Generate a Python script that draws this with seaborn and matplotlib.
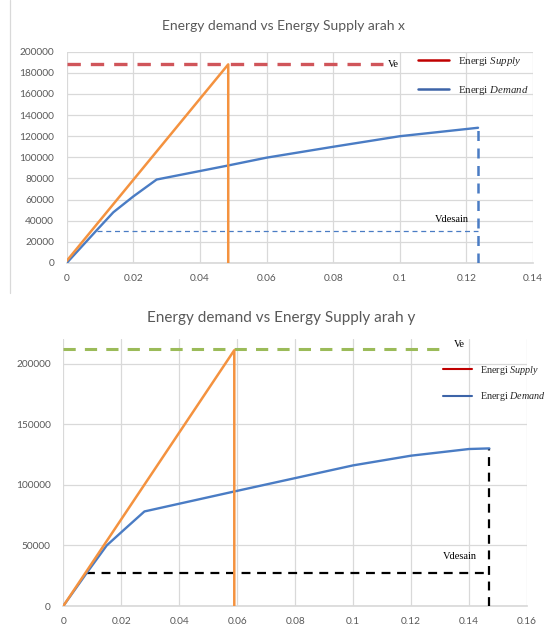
import matplotlib
matplotlib.use("Agg")
import matplotlib.pyplot as plt
import seaborn as sns
import numpy as np
from matplotlib.lines import Line2D

# ---------------- data ----------------
# arah x
demand_x_disp = [0, 0.009, 0.014, 0.020, 0.027, 0.048, 0.06, 0.08, 0.1, 0.1235]
demand_x_force = [0, 31000, 48000, 63000, 79000, 92000, 99700, 110000, 120000, 128000]
supply_x_disp = [0, 0.0485, 0.0485]
supply_x_force = [2000, 188000, 0]
ve_x = 188000
ve_x_end = 0.095
vdesain_x = 30500
vdesain_x_start = 0.009
# arah y
demand_y_disp = [0, 0.008, 0.015, 0.021, 0.028, 0.06, 0.1, 0.12, 0.14, 0.147]
demand_y_force = [0, 27000, 50000, 63000, 78000, 95000, 116000, 124000, 129500, 130000]
supply_y_disp = [0, 0.059, 0.059]
supply_y_force = [0, 211000, 0]
ve_y = 212000
ve_y_end = 0.131
vdesain_y = 27000
vdesain_y_start = 0.008

titles = ["Energy demand vs Energy Supply arah x", "Energy demand vs Energy Supply arah y"]
legend_labels = ["Energi $\\mathit{Supply}$", "Energi $\\mathit{Demand}$"]
xticks_x = [0, 0.02, 0.04, 0.06, 0.08, 0.1, 0.12, 0.14]
xticks_y = [0, 0.02, 0.04, 0.06, 0.08, 0.1, 0.12, 0.14, 0.16]
yticks_x = list(range(0, 200001, 20000))
yticks_y = list(range(0, 200001, 50000))

sns.set_theme(style="white")
plt.rcParams["font.family"] = ["Lato", "DejaVu Sans"]
plt.rcParams["mathtext.fontset"] = "custom"
plt.rcParams["mathtext.it"] = "Liberation Serif:italic"
plt.rcParams["mathtext.rm"] = "Liberation Serif"

ORANGE = "#f4923f"
BLUE = "#4a7cc4"
RED_D = "#d0555a"
GREEN_D = "#9bbb59"
GRID = "#d9d9d9"
TXT = "#595959"
SERIF = "Liberation Serif"

fig = plt.figure(figsize=(5.5, 6.27), dpi=100)
W, H = 550, 627

def axes_px(x0, x1, ytop, ybot):
    return fig.add_axes([x0 / W, 1 - ybot / H, (x1 - x0) / W, (ybot - ytop) / H])

def style(ax, xticks, yticks, xlim, ylim):
    ax.set_xlim(*xlim)
    ax.set_ylim(*ylim)
    ax.set_xticks(xticks)
    ax.set_xticklabels([("%g" % t) for t in xticks])
    ax.set_yticks(yticks)
    ax.set_yticklabels([str(t) for t in yticks])
    ax.grid(True, color=GRID, lw=0.9)
    ax.set_axisbelow(True)
    for s in ax.spines.values():
        s.set_visible(False)
    ax.spines["bottom"].set_visible(True)
    ax.spines["bottom"].set_color(GRID)
    ax.tick_params(axis="both", length=0, labelsize=7.3, colors=TXT)
    ax.tick_params(axis="x", pad=8)
    ax.tick_params(axis="y", pad=9)
    ax.set_xlabel("")
    ax.set_ylabel("")

def line(ax, x, y, color, lw, z):
    sns.lineplot(x=x, y=y, sort=False, estimator=None, errorbar=None,
                 color=color, lw=lw, ax=ax, zorder=z)

# ---------------- top chart ----------------
ax1 = axes_px(66.7, 533, 51.7, 263)
ax1.hlines(ve_x, 0, ve_x_end, colors=RED_D, linestyles=(0, (4, 3)), lw=2.4, zorder=3)
ax1.hlines(vdesain_x, vdesain_x_start, demand_x_disp[-1], colors=BLUE, linestyles=(0, (4, 3)), lw=0.9, zorder=3)
ax1.vlines(demand_x_disp[-1], 0, demand_x_force[-1], colors=BLUE, linestyles=(0, (4, 3)), lw=1.8, zorder=3)
line(ax1, demand_x_disp, demand_x_force, BLUE, 1.7, 4)
line(ax1, supply_x_disp, supply_x_force, ORANGE, 1.8, 5)
style(ax1, xticks_x, yticks_x, (0, 0.14), (0, 200000))
ax1.text(0.0965, ve_x, "Ve", family=SERIF, fontsize=7.5, va="center", ha="left", color="black")
ax1.text(0.1157, 41500, "Vdesain", family=SERIF, fontsize=7.5, va="center", ha="center", color="black")
h = [Line2D([], [], color="#c00000", lw=1.8), Line2D([], [], color="#3d64a8", lw=1.8)]
ax1.legend(h, legend_labels, loc="upper left", bbox_to_anchor=(418 / W, 1 - 55 / H),
           bbox_transform=fig.transFigure, frameon=False,
           handlelength=2.9, handletextpad=0.8, labelspacing=1.45, borderaxespad=0, borderpad=0,
           prop={"family": SERIF, "size": 7.8})
fig.text(283 / W, 1 - 26 / H, titles[0], fontsize=10, color=TXT, ha="center", va="center")
fig.add_artist(Line2D([10 / W, 10 / W], [1 - 0 / H, 1 - 293 / H], color=GRID, lw=0.9))

# ---------------- bottom chart ----------------
ax2 = axes_px(63.3, 527, 339.3, 606)
ax2.hlines(ve_y, 0, ve_y_end, colors=GREEN_D, linestyles=(0, (4, 3)), lw=2.2, zorder=3)
ax2.hlines(vdesain_y, vdesain_y_start, demand_y_disp[-1], colors="black", linestyles=(0, (4, 3)), lw=1.6, zorder=3)
ax2.vlines(demand_y_disp[-1], 0, demand_y_force[-1], colors="black", linestyles=(0, (4, 3)), lw=1.6, zorder=3)
line(ax2, demand_y_disp, demand_y_force, BLUE, 1.7, 4)
line(ax2, supply_y_disp, supply_y_force, ORANGE, 1.8, 5)
style(ax2, xticks_y, yticks_y, (0, 0.16), (0, 220000))
ax2.text(0.1365, 216000, "Ve", family=SERIF, fontsize=7.5, va="center", ha="center", color="black")
ax2.text(0.1368, 40500, "Vdesain", family=SERIF, fontsize=7.5, va="center", ha="center", color="black")
h2 = [Line2D([], [], color="#c00000", lw=1.5), Line2D([], [], color="#3d64a8", lw=1.5)]
ax2.legend(h2, legend_labels, loc="upper left", bbox_to_anchor=(443 / W, 1 - 364 / H),
           bbox_transform=fig.transFigure, frameon=False,
           handlelength=2.9, handletextpad=0.7, labelspacing=1.3, borderaxespad=0, borderpad=0,
           prop={"family": SERIF, "size": 7.3})
fig.text(281 / W, 1 - 318 / H, titles[1], fontsize=11, color=TXT, ha="center", va="center")

fig.savefig("out.png", dpi=100)
